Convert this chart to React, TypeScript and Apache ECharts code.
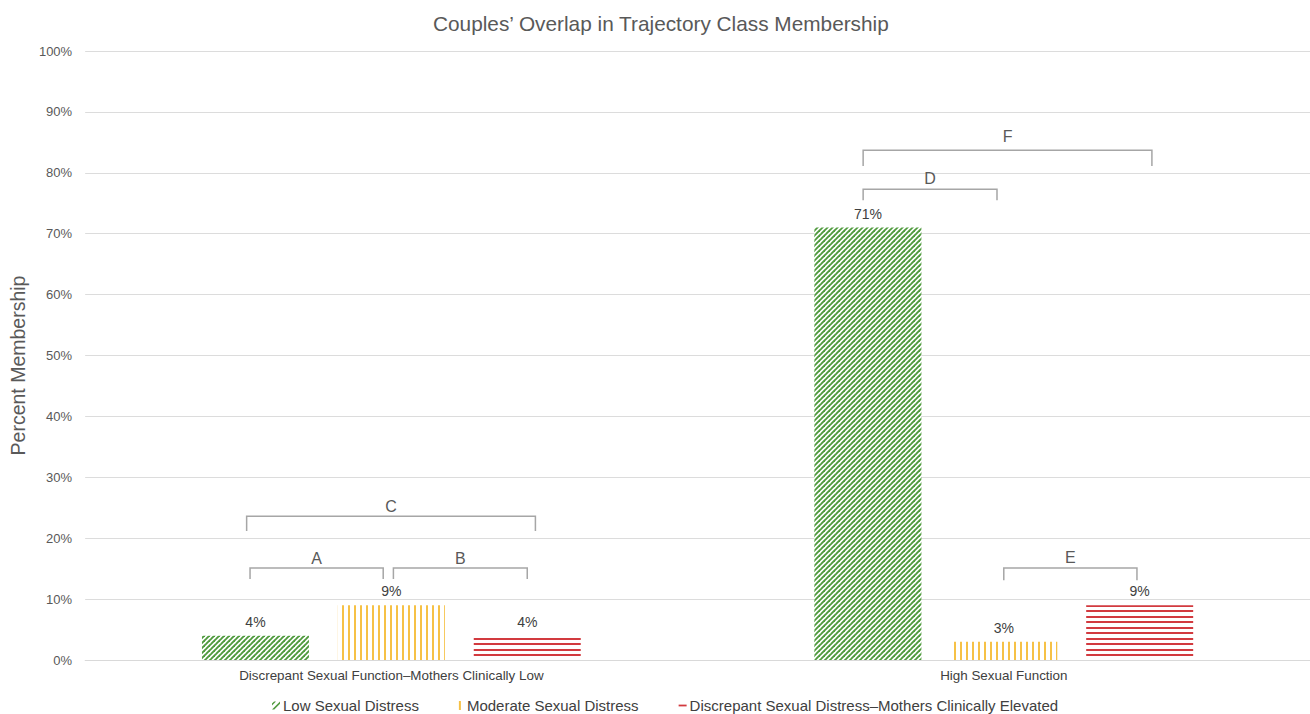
import React, { useEffect, useRef } from "react";
import * as echarts from "echarts";

const categories = ["Discrepant Sexual Function–Mothers Clinically Low", "High Sexual Function"];
const seriesNames = [
  "Low Sexual Distress",
  "Moderate Sexual Distress",
  "Discrepant Sexual Distress–Mothers Clinically Elevated",
];
const lowDistress = [4, 71];
const moderateDistress = [9, 3];
const discrepantDistress = [4, 9];
const yTicks = [0, 10, 20, 30, 40, 50, 60, 70, 80, 90, 100];

// Bracket annotations: label, category, from/to (fractional bar index), top and foot levels (%)
const bracketLabels = ["A", "B", "C", "D", "E", "F"];
const bracketCategory = [0, 0, 0, 1, 1, 1];
const bracketFrom = [-0.04, 1.015, -0.065, -0.035, 1.0, -0.035];
const bracketTo = [0.94, 2.0, 2.06, 0.95, 1.98, 2.09];
const bracketTop = [15.1, 15.1, 23.6, 77.3, 15.1, 83.7];
const bracketFoot = [13.3, 13.3, 21.2, 75.5, 13.1, 81.1];
const bracketLabelGap = [10, 10, 10, 11, 11, 14];

const GREEN = "#4f9a3d";
const YELLOW = "#f6c146";
const RED = "#d23a3f";
const BAR_W = 107;
const BAR_GAP = 0.27;
const FONT = "Liberation Sans, Arial, sans-serif";

function makeTile(w: number, h: number, draw: (ctx: CanvasRenderingContext2D) => void) {
  const c = document.createElement("canvas");
  c.width = w;
  c.height = h;
  const ctx = c.getContext("2d")!;
  ctx.fillStyle = "#ffffff";
  ctx.fillRect(0, 0, w, h);
  draw(ctx);
  return c;
}

export default function App() {
  const ref = useRef<HTMLDivElement>(null);
  useEffect(() => {
    if (!ref.current) return;
    const chart = echarts.init(ref.current, null, { renderer: "svg" });
    const label = {
      show: true,
      position: "top",
      distance: 7,
      color: "#404040",
      fontSize: 14,
      fontFamily: FONT,
      formatter: (p: any) => `${p.value}%`,
    };
    const values = [lowDistress, moderateDistress, discrepantDistress];

    const greenTile = makeTile(5, 5, (ctx) => {
      ctx.strokeStyle = GREEN;
      ctx.lineWidth = 1.9;
      [0, 5, 10].forEach((c) => {
        ctx.beginPath();
        ctx.moveTo(c + 1, -1);
        ctx.lineTo(c - 6, 6);
        ctx.stroke();
      });
    });
    const yellowTile = makeTile(6, 6, (ctx) => {
      ctx.fillStyle = YELLOW;
      ctx.fillRect(0, 0, 2, 6);
    });
    const redTile = makeTile(6, 11, (ctx) => {
      ctx.fillStyle = RED;
      ctx.fillRect(0, 0, 6, 2);
      ctx.fillRect(0, 5, 6, 2);
    });
    const fills = [
      { image: greenTile, repeat: "repeat" },
      { image: yellowTile, repeat: "repeat" },
      { image: redTile, repeat: "repeat" },
    ];

    const legendIcons = [
      "path://M0,7L2,7L7,2L7,0Z M0,3.5L3.5,0L1.8,0L0,1.8Z",
      "path://M0,0L2,0L2,9L0,9Z",
      "path://M0,0L9,0L9,2L0,2Z",
    ];
    const legendColors = [GREEN, YELLOW, RED];
    const option: any = {
      animation: false,
      backgroundColor: "#ffffff",
      textStyle: { fontFamily: FONT },
      title: {
        text: "Couples’ Overlap in Trajectory Class Membership",
        left: 428,
        top: 8,
        textStyle: { fontSize: 20.8, fontWeight: "normal", color: "#595959", fontFamily: FONT },
      },
      legend: {
        top: 698,
        left: 272,
        padding: 0,
        itemGap: 40,
        itemWidth: 8,
        itemHeight: 9,
        textStyle: { fontSize: 15, color: "#404040", padding: [0, 0, 0, -2] },
        data: seriesNames.map((n, i) => ({
          name: n,
          icon: legendIcons[i],
          itemStyle: { color: legendColors[i] },
        })),
      },
      grid: { left: 83, right: 0, top: 51, bottom: 54, containLabel: false },
      xAxis: {
        type: "category",
        data: categories,
        axisLine: { lineStyle: { color: "#d9d9d9" } },
        axisTick: { show: false },
        axisLabel: { color: "#404040", fontSize: 13.4, margin: 9 },
      },
      yAxis: {
        type: "value",
        min: yTicks[0],
        max: yTicks[yTicks.length - 1],
        interval: 10,
        name: "Percent Membership",
        nameLocation: "middle",
        nameGap: 56,
        nameTextStyle: { fontSize: 19.5, color: "#595959", padding: [0, 20, 0, 0] },
        axisLabel: { formatter: "{value}%", color: "#595959", fontSize: 13, margin: 13 },
        splitLine: { lineStyle: { color: "#dcdcdc" } },
        axisLine: { show: false },
        axisTick: { show: false },
      },
      series: seriesNames.map((n, i) => ({
        name: n,
        type: "bar",
        barWidth: BAR_W,
        barGap: `${BAR_GAP * 100}%`,
        data: values[i],
        label,
        itemStyle: { color: fills[i] },
        emphasis: { disabled: true },
      })),
    };
    chart.setOption(option);

    const step = BAR_W * (1 + BAR_GAP);
    const graphics: any[] = [];
    bracketLabels.forEach((lab, i) => {
      const c = chart.convertToPixel({ gridIndex: 0 }, [bracketCategory[i], bracketTop[i]]) as number[];
      const f = chart.convertToPixel({ gridIndex: 0 }, [bracketCategory[i], bracketFoot[i]]) as number[];
      const x1 = c[0] + (bracketFrom[i] - 1) * step;
      const x2 = c[0] + (bracketTo[i] - 1) * step;
      const yt = c[1];
      const yf = f[1];
      graphics.push({
        type: "polyline",
        shape: { points: [[x1, yf], [x1, yt], [x2, yt], [x2, yf]] },
        style: { stroke: "#a6a6a6", lineWidth: 1.5, fill: null },
        z: 10,
      });
      graphics.push({
        type: "text",
        x: (x1 + x2) / 2,
        y: yt - bracketLabelGap[i],
        style: {
          text: lab,
          fontSize: 16,
          fill: "#595959",
          align: "center",
          verticalAlign: "middle",
          fontFamily: FONT,
        },
        z: 10,
      });
    });
    chart.setOption({ graphic: graphics });

    return () => chart.dispose();
  }, []);
  return (
    <div
      ref={ref}
      style={{ position: "fixed", left: 0, top: 0, width: 1310, height: 714, background: "#fff" }}
    />
  );
}
